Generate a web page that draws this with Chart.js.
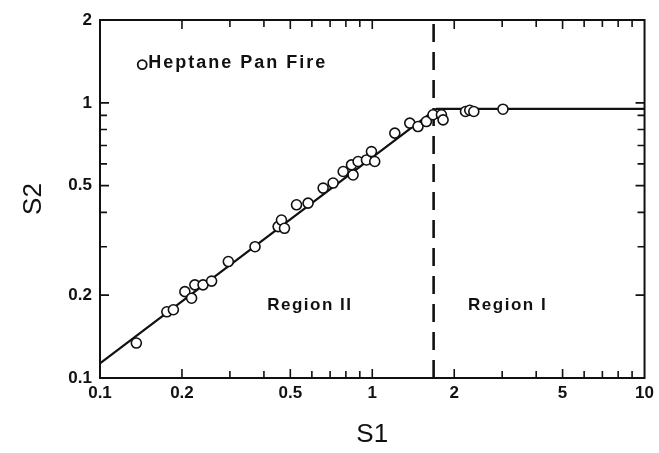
<!DOCTYPE html>
<html><head><meta charset="utf-8">
<script src="https://cdn.jsdelivr.net/npm/chart.js@4.4.0/dist/chart.umd.min.js"></script>
<style>html,body{margin:0;padding:0;background:#fff}canvas{display:block}</style>
</head><body>
<canvas id="c" width="659" height="453"></canvas>
<script>
// ---- data ----
const s1Values = [0.136, 0.176, 0.186, 0.205, 0.217, 0.223, 0.239, 0.257, 0.296, 0.371,
  0.451, 0.464, 0.476, 0.527, 0.581, 0.660, 0.718, 0.782, 0.839, 0.850, 0.887, 0.952,
  0.993, 1.021, 1.21, 1.373, 1.472, 1.58, 1.671, 1.795, 1.82, 2.20, 2.28, 2.36, 3.02];
const s2Values = [0.134, 0.174, 0.177, 0.206, 0.195, 0.218, 0.218, 0.225, 0.265, 0.300,
  0.355, 0.375, 0.350, 0.426, 0.432, 0.490, 0.511, 0.563, 0.595, 0.547, 0.612, 0.620,
  0.665, 0.612, 0.776, 0.844, 0.820, 0.855, 0.905, 0.905, 0.867, 0.930, 0.940, 0.930, 0.948];
const fitS1 = [0.1, 1.72, 10];
const fitS2 = [0.113, 0.95, 0.95];
const boundaryS1 = [1.68, 1.68];
const boundaryS2 = [0.1, 2];
const xTickValues = [0.1, 0.2, 0.5, 1, 2, 5, 10];
const xTickLabels = ['0.1', '0.2', '0.5', '1', '2', '5', '10'];
const yTickValues = [0.1, 0.2, 0.5, 1, 2];
const yTickLabels = ['0.1', '0.2', '0.5', '1', '2'];
const xMinorTicks = [0.3, 0.4, 0.6, 0.7, 0.8, 0.9, 3, 4, 6, 7, 8, 9];
const yMinorTicks = [0.3, 0.4, 0.6, 0.7, 0.8, 0.9];
const seriesName = 'Heptane Pan Fire';
const regionNames = ['Region II', 'Region I'];
const xTitle = 'S1';
const yTitle = 'S2';

// ---- text placement (data coordinates) ----
const notePlaces = { legend: [0.137, 1.40], region2: [0.59, 0.184], region1: [3.14, 0.183] };

const INK = '#111';
const FONT = "'Liberation Sans', Arial, sans-serif";

const decor = {
  id: 'decor',
  afterDraw(chart) {
    const { ctx, chartArea: a, scales: { x, y } } = chart;
    ctx.save();
    ctx.strokeStyle = INK;
    // frame
    ctx.lineWidth = 2;
    ctx.strokeRect(a.left, a.top, a.right - a.left, a.bottom - a.top);
    // inward ticks
    ctx.lineWidth = 1.6;
    const xt = xTickValues.slice(1, -1).map(v => [v, 9]).concat(xMinorTicks.map(v => [v, 7]));
    xt.forEach(([v, len]) => {
      const px = x.getPixelForValue(v);
      ctx.beginPath();
      ctx.moveTo(px, a.bottom); ctx.lineTo(px, a.bottom - len);
      ctx.moveTo(px, a.top); ctx.lineTo(px, a.top + len);
      ctx.stroke();
    });
    const yt = yTickValues.slice(1, -1).map(v => [v, 9]).concat(yMinorTicks.map(v => [v, 7]));
    yt.forEach(([v, len]) => {
      const py = y.getPixelForValue(v);
      ctx.beginPath();
      ctx.moveTo(a.left, py); ctx.lineTo(a.left + len, py);
      ctx.moveTo(a.right, py); ctx.lineTo(a.right - len, py);
      ctx.stroke();
    });
    // legend note
    ctx.fillStyle = INK;
    ctx.textBaseline = 'middle';
    ctx.textAlign = 'left';
    ctx.font = "bold 18px " + FONT;
    ctx.letterSpacing = '2px';
    const lx = x.getPixelForValue(notePlaces.legend[0]);
    const ly = y.getPixelForValue(notePlaces.legend[1]);
    ctx.beginPath();
    ctx.lineWidth = 1.8;
    ctx.arc(lx + 5, ly + 2, 4.5, 0, Math.PI * 2);
    ctx.stroke();
    ctx.fillText(seriesName, lx + 11, ly);
    // region labels
    ctx.font = "bold 17px " + FONT;
    ctx.letterSpacing = '1.5px';
    ctx.textAlign = 'center';
    ctx.fillText(regionNames[0], x.getPixelForValue(notePlaces.region2[0]), y.getPixelForValue(notePlaces.region2[1]));
    ctx.fillText(regionNames[1], x.getPixelForValue(notePlaces.region1[0]), y.getPixelForValue(notePlaces.region1[1]));
    ctx.restore();
  }
};

const pts = s1Values.map((v, i) => ({ x: v, y: s2Values[i] }));
const fit = fitS1.map((v, i) => ({ x: v, y: fitS2[i] }));
const bound = boundaryS1.map((v, i) => ({ x: v, y: boundaryS2[i] }));

new Chart(document.getElementById('c'), {
  type: 'scatter',
  data: {
    datasets: [
      { label: seriesName, data: pts, pointRadius: 5, pointBorderWidth: 1.6,
        pointBorderColor: INK, pointBackgroundColor: '#fff', showLine: false },
      { label: 'fit', data: fit, showLine: true, pointRadius: 0, borderColor: INK,
        borderWidth: 2.2, fill: false, tension: 0 },
      { label: 'boundary', data: bound, showLine: true, pointRadius: 0, borderColor: INK,
        borderWidth: 2.6, borderDash: [18, 10], fill: false }
    ]
  },
  options: {
    responsive: false,
    animation: false,
    layout: { padding: { top: 20, right: 14, left: 0, bottom: 0 } },
    plugins: { legend: { display: false }, tooltip: { enabled: false } },
    scales: {
      x: {
        type: 'logarithmic', min: 0.1, max: 10, position: 'bottom',
        afterBuildTicks: s => { s.ticks = xTickValues.map(v => ({ value: v })); },
        afterFit: s => { s.height = 75; },
        grid: { display: false, drawTicks: false }, border: { display: false },
        ticks: { padding: 5, autoSkip: false, maxRotation: 0, color: INK,
          font: { family: FONT, size: 17, weight: 'bold' },
          callback: (v, i) => xTickLabels[i] },
        title: { display: true, text: xTitle, color: INK,
          font: { family: FONT, size: 26 }, padding: { top: 0, bottom: 3 } }
      },
      y: {
        type: 'logarithmic', min: 0.1, max: 2, position: 'left',
        afterBuildTicks: s => { s.ticks = yTickValues.map(v => ({ value: v })); },
        afterFit: s => { s.width = 100; },
        grid: { display: false, drawTicks: false }, border: { display: false },
        ticks: { padding: 8, autoSkip: false, color: INK,
          font: { family: FONT, size: 17, weight: 'bold' },
          callback: (v, i) => yTickLabels[i] },
        title: { display: true, text: yTitle, color: INK,
          font: { family: FONT, size: 26 }, padding: { top: 18, bottom: 0 } }
      }
    }
  },
  plugins: [decor]
});
</script>
</body></html>
